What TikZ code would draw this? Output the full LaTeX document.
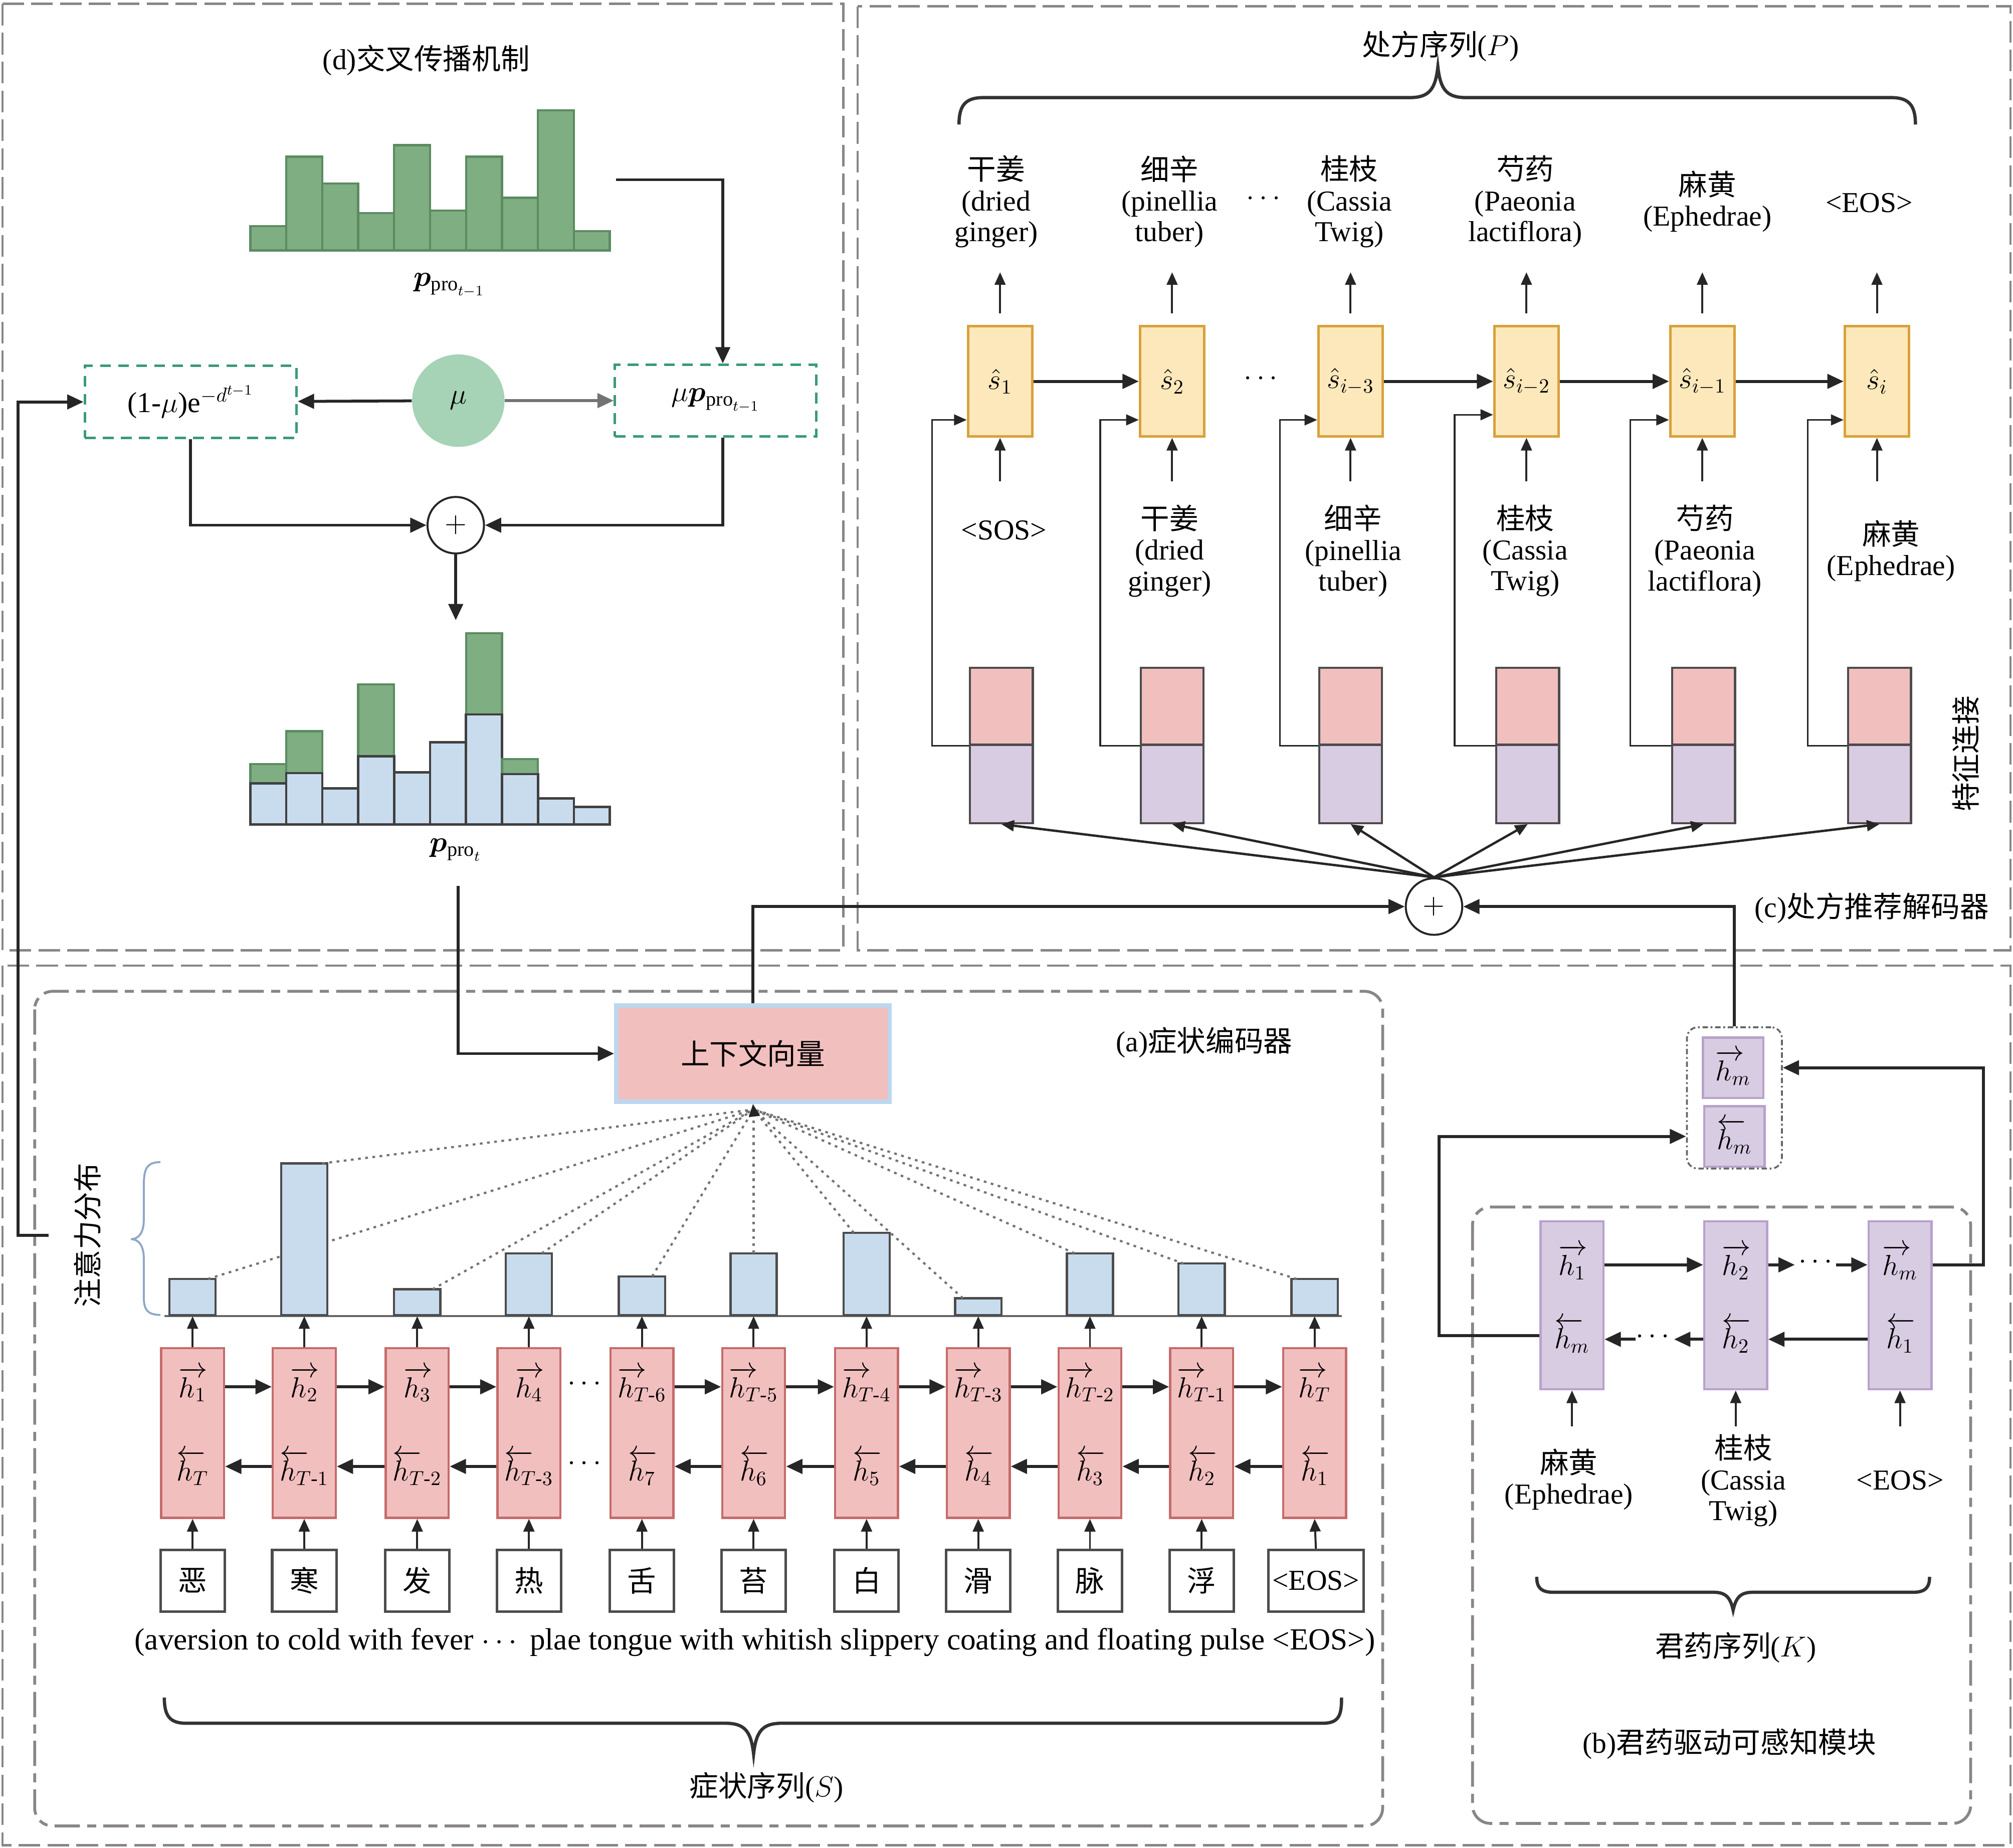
\RequirePackage{fix-cm}
\documentclass[tikz,border=0pt]{standalone}
\usepackage{amsmath}
\usepackage{fontspec}
\usepackage{bm}
\setmainfont{Liberation Serif}
\newfontfamily\zhfont{Noto Sans CJK SC}
\usetikzlibrary{arrows.meta,calc}
\newdimen\pxu \pxu=0.025cm
\newcommand{\zh}[1]{{\zhfont #1}}
\newcommand{\fs}{\fontsize{16}{17}\selectfont}
\newcommand{\fh}[1]{\ensuremath{\makebox[0pt][l]{$\overrightarrow{\phantom{h}}$}h_{#1}}}
\newcommand{\bh}[1]{\ensuremath{\makebox[0pt][l]{$\overleftarrow{\phantom{h}}$}h_{#1}}}
\definecolor{pinkf}{HTML}{F2BFBF}
\definecolor{pinkd}{HTML}{C66B6B}
\definecolor{lavf}{HTML}{D8CCE2}
\definecolor{lavd}{HTML}{B7A2CB}
\definecolor{yelf}{HTML}{FDE8BB}
\definecolor{yeld}{HTML}{D9A13B}
\definecolor{bluef}{HTML}{C9DCEE}
\definecolor{bluefd}{HTML}{BDD7EE}
\definecolor{greenf}{HTML}{7FAE83}
\definecolor{greend}{HTML}{5C8B61}
\definecolor{mug}{HTML}{A6D2B6}
\definecolor{gbord}{HTML}{3A9A7A}
\definecolor{panelg}{HTML}{8A8686}
\definecolor{braceb}{HTML}{8FA8C6}
\begin{document}
\begin{tikzpicture}[x=0.025cm,y=-0.025cm,
  every node/.style={font=\fs},
  arr/.style={-{Triangle[length=9pt,width=8pt]}, line width=1.6pt, draw=black!85},
  arrs/.style={-{Triangle[length=7pt,width=6pt]}, line width=1.1pt, draw=black!85},
  panel/.style={draw=panelg, line width=1.3pt, dash pattern=on 12pt off 4pt},
  apanel/.style={draw=panelg, line width=1.6pt, dash pattern=on 14pt off 4pt on 5pt off 4pt, rounded corners=10pt},
  gdash/.style={draw=gbord, line width=1.4pt, dash pattern=on 6pt off 4pt, inner sep=0},
  hbox/.style={draw=pinkd, fill=pinkf, line width=1.2pt, minimum width=49\pxu, minimum height=132\pxu, inner sep=0},
  lvbox/.style={draw=lavd, fill=lavf, line width=1.2pt, minimum width=49\pxu, minimum height=131\pxu, inner sep=0},
  sbox/.style={draw=yeld, fill=yelf, line width=1.4pt, minimum width=50\pxu, minimum height=86\pxu, inner sep=0},
  symb/.style={draw=black!70, line width=1.4pt, fill=white, minimum width=50\pxu, minimum height=48\pxu, inner sep=0},
  cpink/.style={draw=black!70, fill=pinkf, line width=1.2pt, minimum width=49\pxu, minimum height=60\pxu, inner sep=0},
  clav/.style={draw=black!70, fill=lavf, line width=1.2pt, minimum width=49\pxu, minimum height=61\pxu, inner sep=0},
  plusnode/.style={circle, draw=black!85, line width=1.1pt, minimum size=44\pxu, inner sep=0},
  lbl/.style={align=center, inner sep=0},
  hlab/.style={inner sep=0},
  greenbar/.style={draw=greend, fill=greenf, line width=1.2pt},
  bluebar/.style={draw=black!75, fill=bluef, line width=1.3pt},
  abar/.style={draw=black!70, fill=bluef, line width=1.2pt},
  dotl/.style={draw=black!55, line width=1.2pt, dash pattern=on 1.5pt off 2.5pt},
  bracel/.style={draw=black!80, line width=1.8pt}
]
\fill[white] (0,0) rectangle (1568,1439);
\useasboundingbox (0,0) rectangle (1568,1439);

% ---------------- panels
\draw[panel] (2,3) rectangle (657,740);
\draw[panel] (668,5) rectangle (1566,740);
\draw[panel] (2,752) rectangle (1566,1437);
\draw[apanel] (27,772) rectangle (1077,1422);
\draw[apanel] (1147,940) rectangle (1535,1420);

% ---------------- panel (d)
\node (dtitle) at (332,47) {(d)\zh{交叉传播机制}};
\foreach \h [count=\i from 0] in {19,73,52,29,82,31,73,41,109,15}
  \draw[greenbar] (195+28*\i,195) rectangle ++(28,-\h);
\node (plast) at (350,222) {$\bm{p}_{\mathrm{pro}_{t-1}}$};
\node[gdash, minimum width=165\pxu, minimum height=56\pxu] (lbox) at (148.5,313) {(1-$\mu$)e$^{-d^{t-1}}$};
\node[gdash, minimum width=157\pxu, minimum height=56\pxu] (rbox) at (557.5,312) {$\mu\bm{p}_{\mathrm{pro}_{t-1}}$};
\node[circle, fill=mug, minimum size=72\pxu, inner sep=0] (mu) at (357,312) {$\mu$};
\draw[arr] (mu) -- (lbox);
\draw[arr, draw=black!55] (mu) -- (rbox);
\coordinate (histR) at (480,140);
\draw[arr] (histR) -| ([xshift=5.5\pxu]rbox.north);
\node[plusnode] (plus1) at (355,409) {$+$};
\draw[arr] (lbox.south) |- (plus1.west);
\draw[arr] ([xshift=5.5\pxu]rbox.south) |- (plus1.east);
\coordinate (hist2top) at (355,483);
\draw[arr] (plus1) -- (hist2top);
\foreach \g/\b [count=\i from 0] in {47/32,72.5/40,28/28,109/53,40.5/40.5,64/64,149/85.6,51/39.2,20.3/20.3,13.7/13.7} {
  \draw[greenbar] (195+28*\i,642) rectangle ++(28,-\g);
  \draw[bluebar] (195+28*\i,642) rectangle ++(28,-\b);
}
\node (pcur) at (355,662) {$\bm{p}_{\mathrm{pro}_{t}}$};
\coordinate (ptbot) at (357,690);

% ---------------- panel (a)
\node (atitle) at (938,812) {(a)\zh{症状编码器}};
\node[draw=bluefd, fill=pinkf, line width=2.4pt, minimum width=213\pxu, minimum height=75\pxu] (ctx) at (586.5,820.5) {\zh{上下文向量}};
\draw[arr] (ptbot) |- (ctx.west);
\coordinate (ctxin) at (587,864);
\draw[draw=black!60, line width=1pt] (128,1025) -- (1045,1025);
\foreach \x/\t/\d [count=\i] in {150/996/12,237/906/14,325/1004/12,412/976/10,500/994/8,587/976/0,675/960/-10,762/1011/-12,849/976/-12,936/984/-14,1024/996/-14} {
  \draw[abar] (\x-18,1024) rectangle (\x+18,\t);
  \coordinate (at\i) at (\x+\d,\t);
  \draw[dotl] (at\i) -- (ctxin);
}
\draw[arrs] (ctxin) -- (ctx.south);
\draw[draw=braceb, line width=1.1pt] (125,905) .. controls (113,905) and (112,912) .. (112,925) -- (112,950) .. controls (112,960) and (108,965) .. (102,965) .. controls (108,965) and (112,970) .. (112,980) -- (112,1010) .. controls (112,1020) and (115,1024) .. (125,1024);
\node[rotate=90] (attn) at (68,962) {\zh{注意力分布}};
\coordinate (attnL) at (38,962);
\coordinate (rail) at (14,962);
\draw[arr] (attnL) -- (rail) |- (lbox.west);

\coordinate (fwy) at (0,1080);
\coordinate (bwy) at (0,1142);
\coordinate (basey) at (0,1025);
\foreach \x/\f/\b [count=\i] in {150/1/T,237/2/{T\text{-}1},325/3/{T\text{-}2},412/4/{T\text{-}3},500/{T\text{-}6}/7,587/{T\text{-}5}/6,675/{T\text{-}4}/5,762/{T\text{-}3}/4,849/{T\text{-}2}/3,936/{T\text{-}1}/2,1024/T/1} {
  \node[hbox] (h\i) at (\x,1116) {};
  \node[hlab] (hf\i) at (\x,1078) {\fh{\f}};
  \node[hlab] (hb\i) at (\x,1143) {\bh{\b}};
  \draw[arrs] (h\i.north) -- (h\i.north|-basey);
}
\foreach \i/\j in {1/2,2/3,3/4,5/6,6/7,7/8,8/9,9/10,10/11} {
  \draw[arr] (h\i.east|-fwy) -- (h\j.west|-fwy);
  \draw[arr] (h\j.west|-bwy) -- (h\i.east|-bwy);
}
\node (hdots1) at (457,1078) {$\cdots$};
\node (hdots2) at (457,1140) {$\cdots$};
\foreach \x/\c [count=\i] in {150/恶,237/寒,325/发,412/热,500/舌,587/苔,675/白,762/滑,849/脉,936/浮} {
  \node[symb] (s\i) at (\x,1231) {\zh{\c}};
}
\node[symb, minimum width=74\pxu] (s11) at (1025,1231) {<EOS>};
\foreach \i in {1,...,11} \draw[arrs] (s\i.north) -- (h\i.south);
\node[font=\fontsize{17}{18}\selectfont] (engl) at (588,1279) {(aversion to cold with fever $\cdots$ plae tongue with whitish slippery coating and floating pulse <EOS>)};
\draw[bracel] (128,1322) .. controls (128,1336) and (132,1342) .. (145,1342) -- (565,1342) .. controls (580,1342) and (585,1348) .. (587,1366) .. controls (589,1348) and (594,1342) .. (609,1342) -- (1030,1342) .. controls (1043,1342) and (1045,1336) .. (1045,1322);
\node (stitle) at (597,1392) {\zh{症状序列}($S$)};

% ---------------- panel (c)
\node (ptitle) at (1122,36) {\zh{处方序列}($P$)};
\draw[bracel] (747,97) .. controls (747,82) and (752,76) .. (766,76) -- (1098,76) .. controls (1113,76) and (1118,70) .. (1120,52) .. controls (1122,70) and (1127,76) .. (1142,76) -- (1473,76) .. controls (1487,76) and (1492,82) .. (1492,97);
\foreach \x/\s [count=\i] in {779/1,913/2,1052/i-3,1189/i-2,1326/i-1,1462/i} {
  \node[sbox] (sh\i) at (\x,297) {$\hat{s}_{\s}$};
  \draw[arrs] ([yshift=9\pxu]sh\i.north) -- ([yshift=41\pxu]sh\i.north);
  \draw[arrs] ([yshift=-34\pxu]sh\i.south) -- (sh\i.south);
}
\draw[arr] (sh1) -- (sh2);
\draw[arr] (sh3) -- (sh4);
\draw[arr] (sh4) -- (sh5);
\draw[arr] (sh5) -- (sh6);
\node (sdots) at (984,295) {$\cdots$};
\node[lbl] (o1) at (776,157) {\zh{干姜}\\(dried\\ginger)};
\node[lbl] (o2) at (911,157) {\zh{细辛}\\(pinellia\\tuber)};
\node (odots) at (986,155) {$\cdots$};
\node[lbl] (o3) at (1051,157) {\zh{桂枝}\\(Cassia\\Twig)};
\node[lbl] (o4) at (1188,157) {\zh{芍药}\\(Paeonia\\lactiflora)};
\node[lbl] (o5) at (1330,157) {\zh{麻黄}\\(Ephedrae)};
\node[lbl] (o6) at (1456,158) {<EOS>};
\node[lbl] (i1) at (782,413) {<SOS>};
\node[lbl] (i2) at (911,429) {\zh{干姜}\\(dried\\ginger)};
\node[lbl] (i3) at (1054,429) {\zh{细辛}\\(pinellia\\tuber)};
\node[lbl] (i4) at (1188,429) {\zh{桂枝}\\(Cassia\\Twig)};
\node[lbl] (i5) at (1328,429) {\zh{芍药}\\(Paeonia\\lactiflora)};
\node[lbl] (i6) at (1473,429) {\zh{麻黄}\\(Ephedrae)};
\node[plusnode] (plus2) at (1117,706) {$+$};
\foreach \x/\fx/\sy [count=\i] in {780/726/327,913/857/327,1052/997/327,1190/1133/323,1327/1270/327,1464/1408/327} {
  \node[cpink] (cp\i) at (\x,550) {};
  \node[clav] (cl\i) at (\x,610.5) {};
  \coordinate (fb\i) at (\fx,\sy);
  \draw[arrs, line width=0.9pt] (cp\i.south west) -| (fb\i) -- (sh\i.west|-fb\i);
  \draw[arrs, line width=1.3pt] (plus2.north) -- (cl\i.south);
}
\node[rotate=90] (feat) at (1531,587) {\zh{特征连接}};
\node (ctitle) at (1458,707) {(c)\zh{处方推荐解码器}};
\draw[arr] (ctx.north) |- (plus2.west);

% ---------------- panel (b)
\node[draw=black!60, line width=1pt, dash pattern=on 3pt off 1.5pt on 1pt off 1.5pt, rounded corners=6pt, minimum width=74\pxu, minimum height=110\pxu] (hmg) at (1351,855) {};
\node[draw=lavd, fill=lavf, line width=1.2pt, minimum size=47\pxu, inner sep=0] (hmf) at (1350,831.5) {\fh{m}};
\node[draw=lavd, fill=lavf, line width=1.2pt, minimum size=47\pxu, inner sep=0] (hmb) at (1351,885) {\bh{m}};
\draw[arr] (hmg.north) |- (plus2.east);
\coordinate (bfy) at (0,985);
\coordinate (bby) at (0,1043);
\foreach \x/\f/\b [count=\i] in {1224.5/1/m,1352/2/2,1480/m/1} {
  \node[lvbox] (b\i) at (\x,1016.5) {};
  \node[hlab] (bf\i) at (\x,983) {\fh{\f}};
  \node[hlab] (bb\i) at (\x,1040) {\bh{\b}};
  \draw[arrs] ([yshift=-28\pxu]b\i.south) -- (b\i.south);
}
\draw[arr] (b1.east|-bfy) -- (b2.west|-bfy);
\coordinate (bfa) at (1398,985);
\coordinate (bfb) at (1430,985);
\draw[arr] (b2.east|-bfy) -- (bfa);
\node (bdots1) at (1416,983) {$\cdots$};
\draw[arr] (bfb) -- (b3.west|-bfy);
\draw[arr] (b3.west|-bby) -- (b2.east|-bby);
\coordinate (bba) at (1304,1043);
\coordinate (bbb) at (1274,1043);
\draw[arr] (b2.west|-bby) -- (bba);
\node (bdots2) at (1289,1041) {$\cdots$};
\draw[arr] (bbb) -- (b1.east|-bby);
\coordinate (rrail) at (1545,985);
\draw[arr] (b3.east|-bfy) -- (rrail) |- (hmg.east|-hmf);
\coordinate (lrail) at (1121,1040);
\draw[arr] (b1.west|-lrail) -- (lrail) |- (hmg.west|-hmb);
\node[lbl] (k1) at (1222,1152) {\zh{麻黄}\\(Ephedrae)};
\node[lbl] (k2) at (1358,1153) {\zh{桂枝}\\(Cassia\\Twig)};
\node[lbl] (k3) at (1480,1153) {<EOS>};
\draw[bracel] (1197,1228) .. controls (1197,1236) and (1200,1240) .. (1210,1240) -- (1335,1240) .. controls (1345,1240) and (1348,1245) .. (1350,1254) .. controls (1352,1245) and (1355,1240) .. (1365,1240) -- (1490,1240) .. controls (1500,1240) and (1503,1236) .. (1503,1228);
\node (ktitle) at (1352,1283) {\zh{君药序列}($K$)};
\node (btitle) at (1347,1358) {(b)\zh{君药驱动可感知模块}};
\end{tikzpicture}
\end{document}
